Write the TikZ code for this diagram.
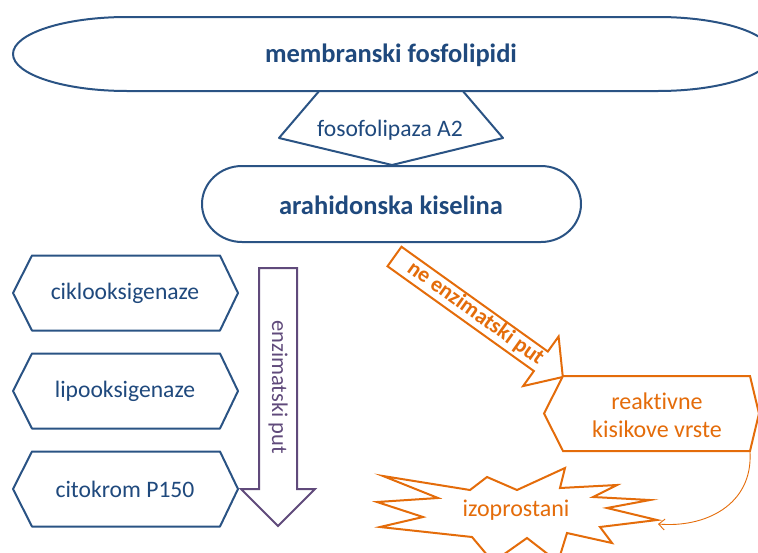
\documentclass[tikz,border=0pt]{standalone}
\usepackage{fontspec}
\setmainfont{Carlito}[RawFeature={-liga}]
\usetikzlibrary{arrows.meta}
\definecolor{navytext}{HTML}{1F497D}
\definecolor{navyline}{HTML}{2A5384}
\definecolor{purp}{HTML}{604A7B}
\definecolor{orng}{HTML}{E46C0A}
\begin{document}
\begin{tikzpicture}[x=1pt,y=-1pt,
  blueshape/.style={draw=navyline,line width=2pt,fill=white,line join=round},
  orshape/.style={draw=orng,line width=2pt,fill=white,line join=miter},
  bluetxt/.style={text=navytext,font=\fontsize{23.6}{27}\selectfont,inner sep=0pt},
  boldtxt/.style={text=navytext,font=\fontsize{26.5}{30}\selectfont\bfseries,inner sep=0pt},
  ortxt/.style={text=orng,font=\fontsize{24}{28}\selectfont,inner sep=0pt,align=center},
]
\useasboundingbox (0,0) rectangle (758,552);

% enzyme pentagon
\draw[blueshape] (320,90) -- (462,90) -- (503,138) -- (392,165) -- (279,138) -- cycle;
\node[bluetxt] (pla2) at (390,130) {fosofolipaza A2};

% top stadium
\draw[blueshape] (127,17) -- (658,17) .. controls (721,17) and (772,33.6) .. (772,54)
  .. controls (772,74.4) and (721,91) .. (658,91) -- (127,91)
  .. controls (64,91) and (13,74.4) .. (13,54)
  .. controls (13,33.6) and (64,17) .. (127,17) -- cycle;
\node[boldtxt] (mf) at (391,55) {membranski fosfolipidi};

% arahidonska stadium
\draw[blueshape] (242,166) -- (541,166) .. controls (563,166) and (581,183) .. (581,204)
  .. controls (581,225) and (563,242) .. (541,242) -- (242,242)
  .. controls (220,242) and (202,225) .. (202,204)
  .. controls (202,183) and (220,166) .. (242,166) -- cycle;
\node[boldtxt] (ak) at (391,205) {arahidonska kiselina};

% left hexagons
\foreach \yc/\nm/\tx in {293/cox/ciklooksigenaze, 391/lox/lipooksigenaze, 489/cyp/citokrom P150}{
  \draw[blueshape] (13,\yc) -- (32,\yc-37.5) -- (220,\yc-37.5) -- (238,\yc) -- (220,\yc+37.5) -- (32,\yc+37.5) -- cycle;
  \node[bluetxt] (\nm) at (125,\yc) {\tx};
}

% purple arrow
\draw[draw=purp,line width=2pt,fill=white,line join=miter]
  (259,268) -- (297,268) -- (297,489) -- (315,489) -- (278,526) -- (241,489) -- (259,489) -- cycle;
\node[text=purp,font=\fontsize{22.5}{27}\selectfont,rotate=-90,inner sep=0pt] (ep) at (278,387) {enzimatski put};

% orange arrow
\begin{scope}[shift={(394.5,256.5)},rotate=-35.6]
  \draw[orshape] (0,-12) -- (180,-12) -- (180,-30.5) -- (207,0) -- (180,30.5) -- (180,12) -- (0,12) -- cycle;
  \node[text=orng,font=\fontsize{22}{26}\selectfont\bfseries,rotate=-35.6,inner sep=0pt] (nep) at (99,-1) {ne enzimatski put};
\end{scope}

% reactive oxygen species hexagon
\draw[orshape] (544,413.5) -- (563,376) -- (750,376) -- (759,413.5) -- (750,451) -- (563,451) -- cycle;
\node[ortxt] (rkv) at (657,415) {reaktivne\\kisikove vrste};

% starburst
\draw[orshape] (383,476) -- (470,490) -- (487,477) -- (517,490) -- (565,468) -- (560,488)
  -- (617,485) -- (593,497) -- (650,500) -- (607,508) -- (657,520) -- (600,527)
  -- (612,543) -- (567,533) -- (558,562) -- (527,538) -- (493,562) -- (472,537)
  -- (380,527) -- (423,517) -- (377,502) -- (438,498) -- cycle;
\node[ortxt] (izo) at (516,510) {izoprostani};

% curved connector
\coordinate (rkvse) at (750,452);
\coordinate (izoe) at (658,524);
\draw[orng,line width=0.9pt,-{Straight Barb[length=6pt,width=11pt]}] (rkvse) .. controls (753,505) and (705,528) .. (izoe);
\end{tikzpicture}
\end{document}
